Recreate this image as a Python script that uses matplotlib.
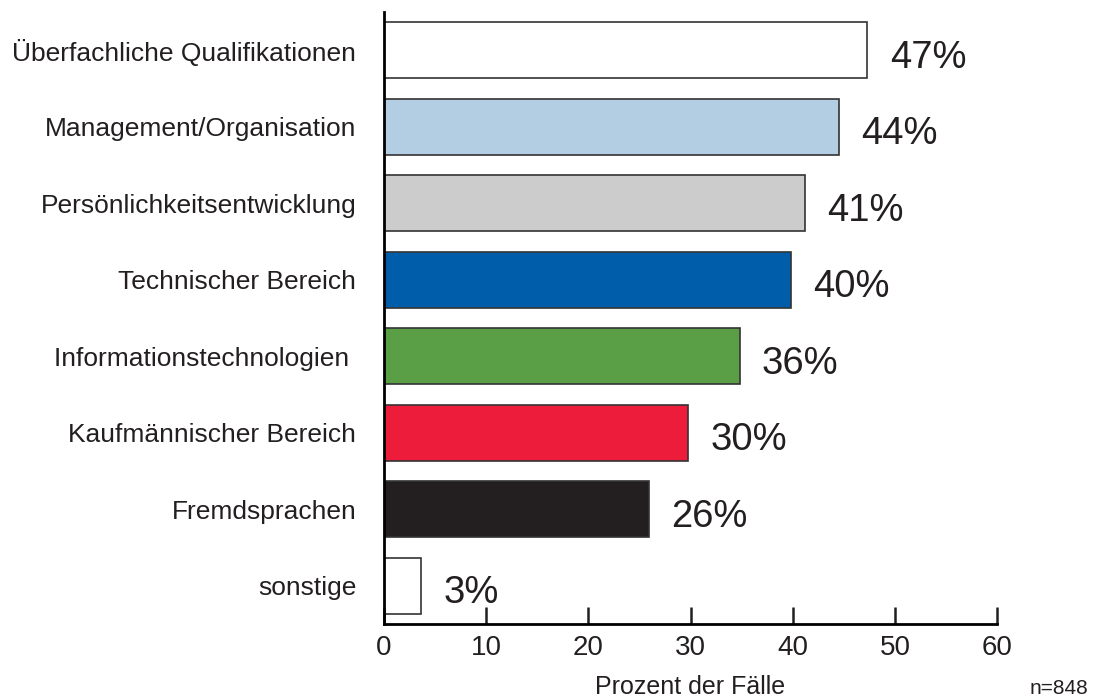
import matplotlib.pyplot as plt

plt.rcParams['font.family'] = ['Liberation Sans', 'DejaVu Sans']

# data
categories = ["Überfachliche Qualifikationen", "Management/Organisation",
              "Persönlichkeitsentwicklung", "Technischer Bereich",
              "Informationstechnologien ", "Kaufmännischer Bereich",
              "Fremdsprachen", "sonstige"]
values = [47.3, 44.5, 41.2, 39.8, 34.8, 29.8, 25.9, 3.6]
labels = ["47%", "44%", "41%", "40%", "36%", "30%", "26%", "3%"]
colors = ["#ffffff", "#b3cde3", "#cccccc", "#005daa", "#5a9f45",
          "#ed1c3a", "#231f20", "#ffffff"]

fig = plt.figure(figsize=(10.96, 6.97), dpi=100)
ax = fig.add_axes([0.3504, 0.1047, 0.5593, 0.8781])

ypos = list(range(len(categories) - 1, -1, -1))
ax.barh(ypos, values, height=0.73, color=colors, edgecolor="#333333", linewidth=1.2)

for y, v, lab in zip(ypos, values, labels):
    ax.text(v + 2.2, y - 0.1, lab, fontsize=27.5, va="center", ha="left", color="#231f20")

ax.set_xlim(0, 60)
ax.set_ylim(-0.5, 7.5)
ax.set_yticks(ypos)
ax.set_yticklabels(categories, fontsize=19, color="#231f20")
ax.tick_params(axis="y", length=0, pad=20)
ax.set_xticks(range(0, 61, 10))
ax.tick_params(axis="x", direction="in", length=12, width=1.8, labelsize=20,
               pad=8, colors="#231f20")

for s in ["top", "right"]:
    ax.spines[s].set_visible(False)
ax.spines["left"].set_linewidth(2)
ax.spines["bottom"].set_linewidth(2)
ax.spines["bottom"].set_bounds(0, 60)

fig.text(690 / 1096, 3 / 697, "Prozent der Fälle", fontsize=18,
         ha="center", va="baseline", color="#231f20")
fig.text(1059 / 1096, 3 / 697, "n=848", fontsize=15,
         ha="center", va="baseline", color="#231f20")

fig.savefig("out.png", dpi=100)
